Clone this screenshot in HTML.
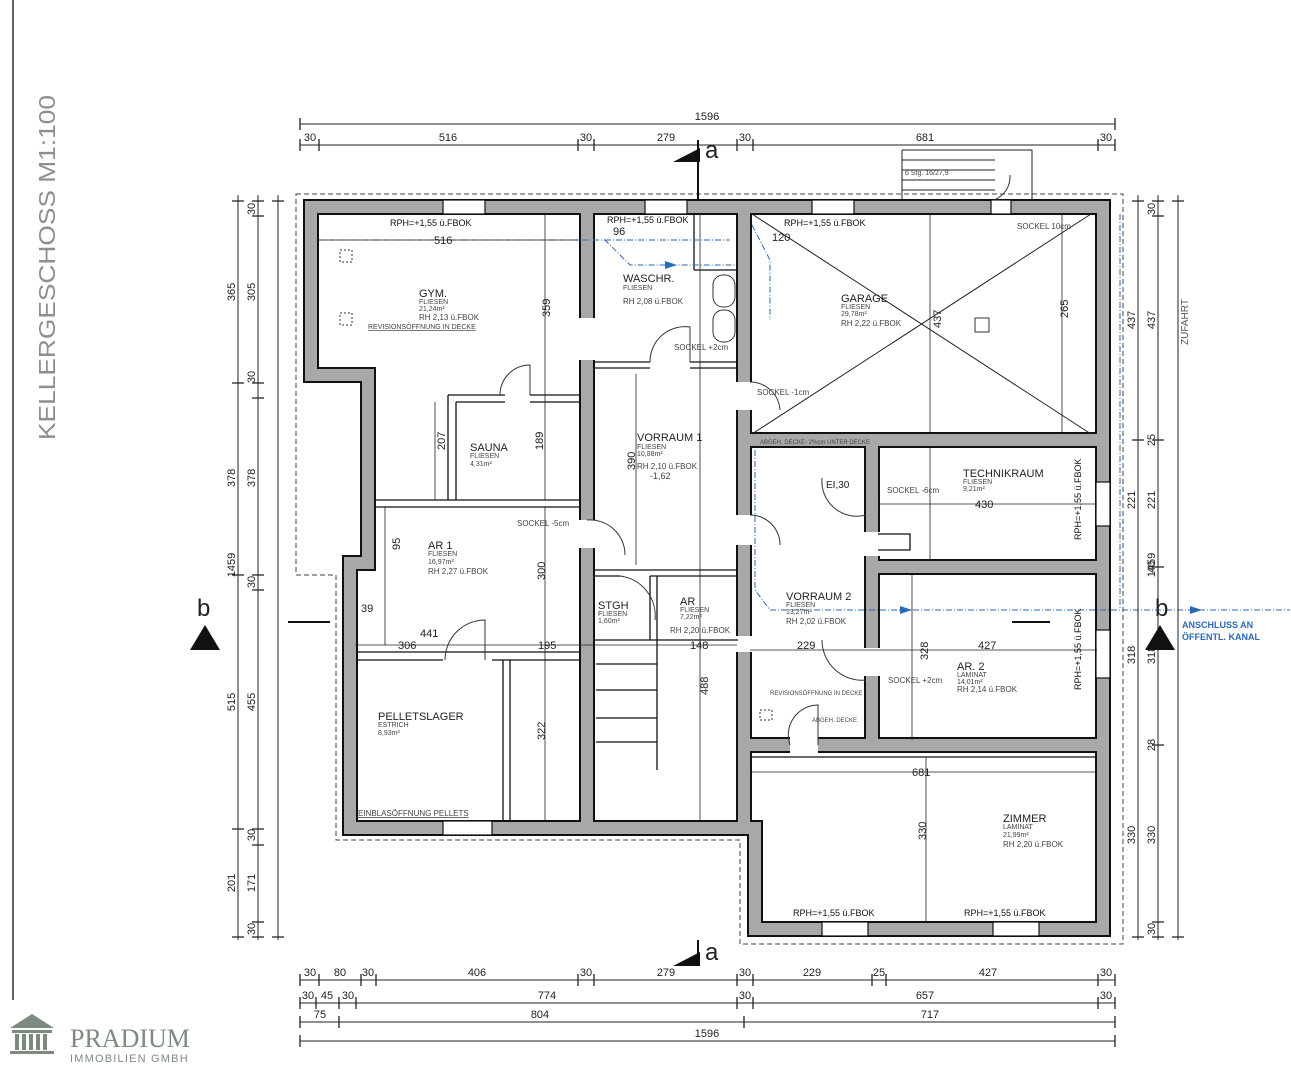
<!DOCTYPE html>
<html><head><meta charset="utf-8"><style>
html,body{margin:0;padding:0;background:#fff}
svg{display:block}
text{font-family:"Liberation Sans",sans-serif;fill:#222}
.d{font-size:11px}
.s{font-size:7px;fill:#444}
.r{font-size:10px}
.t{font-size:11px}
</style></head><body>
<svg width="1291" height="1080" viewBox="0 0 1291 1080" xmlns="http://www.w3.org/2000/svg">
<rect width="1291" height="1080" fill="#fff"/>
<line x1="13" y1="0" x2="13" y2="1000" stroke="#666" stroke-width="2"/>
<text transform="translate(55,440) rotate(-90)" textLength="345" lengthAdjust="spacingAndGlyphs" style="font-size:23px;fill:#8a8f94">KELLERGESCHOSS M1:100</text>

<path d="M296,194 H1123 V944 H740 V840 H336 V575 H296 Z" fill="none" stroke="#444" stroke-width="1" stroke-dasharray="5,3"/>

<g fill="none" stroke-linejoin="miter">
<g stroke="#111" stroke-width="16">
<path d="M311,207 H1103 V929 H755 V828 H350 V563 H368 V375 H311 Z"/>
<path d="M587,207 V318 M587,360 V520 M587,548 V828"/>
<path d="M744,207 V382 M744,410 V515 M744,545 V636 M744,652 V828"/>
<path d="M750,440 H1103"/>
<path d="M872,446 V532 M872,556 V648 M872,676 V740"/>
<path d="M872,567 H1103"/>
<path d="M750,745 H790 M818,745 H1103"/>
<path d="M350,828 H443 M492,828 H587"/>
</g>
<g stroke="#a8a8a8" stroke-width="12">
<path d="M311,207 H1103 V929 H755 V828 H350 V563 H368 V375 H311 Z"/>
<path d="M587,213 V318 M587,360 V520 M587,548 V822"/>
<path d="M744,213 V382 M744,410 V515 M744,545 V636 M744,652 V822"/>
<path d="M750,440 H1097"/>
<path d="M872,446 V532 M872,556 V648 M872,676 V740"/>
<path d="M872,567 H1097"/>
<path d="M750,745 H790 M818,745 H1097"/>
</g>
</g>
<g fill="#fff" stroke="#111" stroke-width="1.2">
<rect x="443" y="200" width="42" height="14"/><rect x="645" y="200" width="42" height="14"/><rect x="812" y="200" width="42" height="14"/>
<rect x="822" y="922" width="46" height="14"/><rect x="993" y="922" width="46" height="14"/>
<rect x="1096" y="482" width="14" height="44"/><rect x="1096" y="630" width="14" height="48"/><rect x="443" y="821" width="49" height="14"/>
<rect x="991" y="200" width="20" height="14"/>
</g>
<g stroke="#111" stroke-width="1.3" fill="none">
<path d="M375,500 H580 M375,507 H580"/>
<path d="M448,395 V500 M456,402 V500 M456,402 H505 M448,395 H505 M530,395 H580 M530,402 H580"/>
<path d="M357,652 H580 M357,660 H443 M492,660 H580 M503,660 V820 M510,660 V820"/>
<path d="M594,362 H650 M690,362 H738 M594,368 H650 M690,368 H738"/>
<path d="M694,214 V270 M694,270 H738"/>
<path d="M594,570 H738 M594,576 H620 M650,576 H738 M650,576 V640 M657,576 V640 M594,640 H738"/>
<path d="M657,640 V770 M596,664 H657 M596,690 H657 M596,718 H657 M596,742 H657"/>
<path d="M750,757 H1097"/>
<path d="M878,534 H910 V550 H878"/>
</g>
<g stroke="#333" stroke-width="1" fill="none">
<path d="M500,395 A30,30 0 0 1 530,365 V395"/>
<path d="M445,660 A40,40 0 0 1 485,620 V660"/>
<path d="M650,362 A35,35 0 0 1 690,327 V362"/>
<path d="M587,520 A35,35 0 0 1 625,555"/>
<path d="M750,382 A30,30 0 0 1 780,410"/>
<path d="M750,515 A30,30 0 0 1 780,545"/>
<path d="M822,478 A35,35 0 0 0 866,515"/>
<path d="M822,640 A40,40 0 0 0 866,680"/>
<path d="M790,745 A30,30 0 0 1 818,705 V745"/>
<path d="M620,576 A40,40 0 0 1 655,620"/>
<path d="M994,200 A25,25 0 0 0 1010,175"/>
<path d="M752,214 L1091,434 M1091,214 L752,434" stroke="#222"/>
<rect x="975" y="318" width="14" height="14" fill="#fff"/>
<rect x="713" y="275" width="22" height="32" rx="10"/><rect x="713" y="310" width="22" height="32" rx="10"/>
<rect x="340" y="250" width="12" height="12" stroke-dasharray="2,2"/><rect x="340" y="313" width="12" height="12" stroke-dasharray="2,2"/>
<rect x="760" y="710" width="12" height="10" stroke-dasharray="2,2"/>
</g>
<g stroke="#222" stroke-width="1" fill="none">
<path d="M902,150 H1032 V200 M902,150 V200 M902,160 H995 M902,170 H995 M902,180 H995 M902,190 H995"/>
</g>
<text x="905" y="175" class="s">6 Stg. 16/27,9</text>
<g stroke="#2a6ab8" stroke-width="1" fill="none" stroke-dasharray="6,2,1,2">
<path d="M318,240 H605 L630,265 H735"/><path d="M752,225 L770,260 V320"/><path d="M755,450 V590 L770,610 H1290"/><path d="M1120,214 V610"/><path d="M605,240 H730"/>
</g>
<g fill="#2a6ab8"><path d="M665,261 l12,4 l-12,4z"/><path d="M900,606 l12,4 l-12,4z"/><path d="M1190,606 l12,4 l-12,4z"/></g>
<text x="1182" y="628" style="font-size:9px;fill:#2a6ab8;font-weight:bold">ANSCHLUSS AN</text>
<text x="1182" y="640" style="font-size:9px;fill:#2a6ab8;font-weight:bold">ÖFFENTL. KANAL</text>

<g stroke="#222" stroke-width="0.8">
<line x1="318" y1="240" x2="580" y2="240"/><line x1="545" y1="214" x2="545" y2="500"/>
<line x1="435" y1="402" x2="435" y2="500"/><line x1="930" y1="214" x2="930" y2="434"/>
<line x1="355" y1="645" x2="737" y2="645"/><line x1="545" y1="507" x2="545" y2="820"/>
<line x1="385" y1="507" x2="385" y2="645"/><line x1="700" y1="214" x2="700" y2="820"/>
<line x1="636" y1="374" x2="636" y2="565"/><line x1="750" y1="650" x2="1097" y2="650"/>
<line x1="912" y1="575" x2="912" y2="740"/><line x1="878" y1="504" x2="1097" y2="504"/>
<line x1="930" y1="446" x2="930" y2="560"/><line x1="750" y1="772" x2="1097" y2="772"/>
<line x1="926" y1="757" x2="926" y2="922"/><line x1="1062" y1="214" x2="1062" y2="434"/>
</g>
<g class="d">
<text x="434" y="244">516</text><text x="538" y="315" transform="rotate(-90 545 310)">359</text>
<text x="440" y="455" transform="rotate(-90 440 450)">207</text><text x="538" y="455" transform="rotate(-90 538 450)">189</text>
<text x="936" y="333" transform="rotate(-90 936 328)">437</text><text x="420" y="637">441</text><text x="398" y="649">306</text>
<text x="538" y="649">195</text><text x="545" y="580" transform="rotate(-90 545 580)">300</text><text x="540" y="745" transform="rotate(-90 540 740)">322</text>
<text x="690" y="649">148</text><text x="797" y="649">229</text><text x="978" y="649">427</text><text x="975" y="508">430</text>
<text x="912" y="776">681</text><text x="921" y="845" transform="rotate(-90 921 840)">330</text><text x="708" y="695" transform="rotate(-90 708 695)">488</text>
<text x="630" y="475" transform="rotate(-90 630 470)">390</text><text x="922" y="666" transform="rotate(-90 922 660)">328</text>
<text x="1068" y="318" transform="rotate(-90 1068 318)">265</text><text x="613" y="235">96</text><text x="772" y="241">120</text>
<text x="361" y="612">39</text><text x="377" y="537" transform="rotate(-90 395 532)">95</text>
</g>
<g>
<text x="419" y="297" class="t">GYM.</text><text x="419" y="304" class="s">FLIESEN</text><text x="419" y="311" class="s">21,24m²</text><text x="419" y="320" class="s" style="font-size:8px">RH 2,13 ü.FBOK</text>
<text x="368" y="329" class="s" style="text-decoration:underline">REVISIONSÖFFNUNG IN DECKE</text>
<text x="470" y="451" class="t">SAUNA</text><text x="470" y="458" class="s">FLIESEN</text><text x="470" y="466" class="s">4,31m²</text>
<text x="623" y="282" class="t">WASCHR.</text><text x="623" y="290" class="s">FLIESEN</text><text x="623" y="304" class="s" style="font-size:8px">RH 2,08 ü.FBOK</text>
<text x="637" y="441" class="t">VORRAUM 1</text><text x="637" y="449" class="s">FLIESEN</text><text x="637" y="456" class="s">10,88m²</text><text x="637" y="469" class="s" style="font-size:8px">RH 2,10 ü.FBOK</text><text x="650" y="479" class="s" style="font-size:9px">-1,62</text>
<text x="841" y="302" class="t">GARAGE</text><text x="841" y="309" class="s">FLIESEN</text><text x="841" y="316" class="s">29,78m²</text><text x="841" y="326" class="s" style="font-size:8px">RH 2,22 ü.FBOK</text>
<text x="963" y="477" class="t">TECHNIKRAUM</text><text x="963" y="484" class="s">FLIESEN</text><text x="963" y="491" class="s">9,21m²</text>
<text x="428" y="549" class="t">AR 1</text><text x="428" y="556" class="s">FLIESEN</text><text x="428" y="564" class="s">16,97m²</text><text x="428" y="574" class="s" style="font-size:8px">RH 2,27 ü.FBOK</text>
<text x="598" y="609" class="t">STGH</text><text x="598" y="616" class="s">FLIESEN</text><text x="598" y="623" class="s">1,60m²</text>
<text x="680" y="605" class="t">AR</text><text x="680" y="612" class="s">FLIESEN</text><text x="680" y="619" class="s">7,22m²</text><text x="670" y="633" class="s" style="font-size:8px">RH 2,20 ü.FBOK</text>
<text x="786" y="600" class="t">VORRAUM 2</text><text x="786" y="607" class="s">FLIESEN</text><text x="786" y="614" class="s">13,27m²</text><text x="786" y="624" class="s" style="font-size:8px">RH 2,02 ü.FBOK</text>
<text x="957" y="670" class="t">AR. 2</text><text x="957" y="677" class="s">LAMINAT</text><text x="957" y="684" class="s">14,01m²</text><text x="957" y="692" class="s" style="font-size:8px">RH 2,14 ü.FBOK</text>
<text x="378" y="720" class="t">PELLETSLAGER</text><text x="378" y="727" class="s">ESTRICH</text><text x="378" y="735" class="s">8,93m²</text>
<text x="358" y="816" class="s" style="font-size:8px;text-decoration:underline">EINBLASÖFFNUNG PELLETS</text>
<text x="1003" y="822" class="t">ZIMMER</text><text x="1003" y="829" class="s">LAMINAT</text><text x="1003" y="837" class="s">21,99m²</text><text x="1003" y="847" class="s" style="font-size:8px">RH 2,20 ü.FBOK</text>
<text x="390" y="226" class="s" style="font-size:9px;fill:#111">RPH=+1,55 ü.FBOK</text>
<text x="607" y="223" class="s" style="font-size:9px;fill:#111">RPH=+1,55 ü.FBOK</text>
<text x="784" y="226" class="s" style="font-size:9px;fill:#111">RPH=+1,55 ü.FBOK</text>
<text x="793" y="916" class="s" style="font-size:9px;fill:#111">RPH=+1,55 ü.FBOK</text>
<text x="964" y="916" class="s" style="font-size:9px;fill:#111">RPH=+1,55 ü.FBOK</text>
<text x="1081" y="540" class="s" style="font-size:9px;fill:#111" transform="rotate(-90 1081 540)">RPH=+1,55 ü.FBOK</text>
<text x="1081" y="690" class="s" style="font-size:9px;fill:#111" transform="rotate(-90 1081 690)">RPH=+1,55 ü.FBOK</text>
<text x="1017" y="229" class="s" style="font-size:8px">SOCKEL 10cm</text>
<text x="674" y="350" class="s" style="font-size:8px">SOCKEL +2cm</text>
<text x="757" y="395" class="s" style="font-size:8px">SOCKEL -1cm</text>
<text x="517" y="526" class="s" style="font-size:8px">SOCKEL -5cm</text>
<text x="887" y="493" class="s" style="font-size:8px">SOCKEL -6cm</text>
<text x="888" y="683" class="s" style="font-size:8px">SOCKEL +2cm</text>
<text x="760" y="444" class="s" style="font-size:6px">ABGEH. DECKE- 2%cm UNTER DECKE</text>
<text x="770" y="695" class="s" style="font-size:6px">REVISIONSÖFFNUNG IN DECKE</text>
<text x="812" y="722" class="s" style="font-size:6px">ABGEH. DECKE</text>
<text x="826" y="488" style="font-size:10px">EI,30</text>
<text x="1188" y="345" transform="rotate(-90 1188 345)" style="font-size:10px;fill:#555">ZUFAHRT</text>
</g>

<g stroke="#222" stroke-width="1">
<line x1="300" y1="124" x2="1115" y2="124"/><line x1="300" y1="145" x2="1115" y2="145"/>
<line x1="300" y1="980" x2="1115" y2="980"/><line x1="300" y1="1003" x2="1115" y2="1003"/><line x1="300" y1="1022" x2="1115" y2="1022"/><line x1="300" y1="1041" x2="1115" y2="1041"/>
<line x1="238" y1="195" x2="238" y2="940"/><line x1="258" y1="195" x2="258" y2="940"/><line x1="278" y1="195" x2="278" y2="940"/>
<line x1="1138" y1="195" x2="1138" y2="940"/><line x1="1158" y1="195" x2="1158" y2="940"/><line x1="1178" y1="195" x2="1178" y2="940"/>
<g stroke-width="1.3">
<path d="M300,118 v12 M1115,118 v12 M300,139v12 M319,139v12 M578,139v12 M594,139v12 M737,139v12 M753,139v12 M1098,139v12 M1115,139v12"/>
<path d="M300,974v12 M319,974v12 M361,974v12 M376,974v12 M578,974v12 M594,974v12 M737,974v12 M753,974v12 M872,974v12 M886,974v12 M1098,974v12 M1115,974v12"/>
<path d="M300,997v12 M316,997v12 M339,997v12 M356,997v12 M737,997v12 M753,997v12 M1098,997v12 M1115,997v12"/>
<path d="M300,1016v12 M339,1016v12 M744,1016v12 M1115,1016v12 M300,1035v12 M1115,1035v12"/>
<path d="M232,201h12 M232,383h12 M232,575h12 M232,829h12 M232,937h12 M252,201h12 M252,216h12 M252,383h12 M252,398h12 M252,575h12 M252,590h12 M252,829h12 M252,845h12 M252,922h12 M252,937h12 M272,201h12 M272,937h12"/>
<path d="M1132,201h12 M1132,440h12 M1132,937h12 M1152,201h12 M1152,216h12 M1152,440h12 M1152,567h12 M1152,745h12 M1152,922h12 M1152,937h12 M1172,201h12 M1172,937h12"/>
</g></g>
<g class="d" text-anchor="middle">
<text x="707" y="120">1596</text>
<text x="310" y="141">30</text><text x="448" y="141">516</text><text x="586" y="141">30</text><text x="666" y="141">279</text><text x="745" y="141">30</text><text x="925" y="141">681</text><text x="1106" y="141">30</text>
<text x="310" y="976">30</text><text x="340" y="976">80</text><text x="368" y="976">30</text><text x="477" y="976">406</text><text x="586" y="976">30</text><text x="666" y="976">279</text><text x="745" y="976">30</text><text x="812" y="976">229</text><text x="879" y="976">25</text><text x="988" y="976">427</text><text x="1106" y="976">30</text>
<text x="308" y="999">30</text><text x="327" y="999">45</text><text x="348" y="999">30</text><text x="547" y="999">774</text><text x="745" y="999">30</text><text x="925" y="999">657</text><text x="1106" y="999">30</text>
<text x="320" y="1018">75</text><text x="540" y="1018">804</text><text x="930" y="1018">717</text>
<text x="707" y="1037">1596</text>
</g>
<g class="d" text-anchor="middle">
<text transform="translate(235,565) rotate(-90)">1459</text>
<text transform="translate(235,292) rotate(-90)">365</text><text transform="translate(235,478) rotate(-90)">378</text><text transform="translate(235,702) rotate(-90)">515</text><text transform="translate(235,883) rotate(-90)">201</text>
<text transform="translate(255,209) rotate(-90)">30</text><text transform="translate(255,292) rotate(-90)">305</text><text transform="translate(255,377) rotate(-90)">30</text><text transform="translate(255,478) rotate(-90)">378</text><text transform="translate(255,582) rotate(-90)">30</text><text transform="translate(255,702) rotate(-90)">455</text><text transform="translate(255,835) rotate(-90)">30</text><text transform="translate(255,883) rotate(-90)">171</text><text transform="translate(255,929) rotate(-90)">30</text>
<text transform="translate(1155,565) rotate(-90)">1459</text>
<text transform="translate(1135,320) rotate(-90)">437</text><text transform="translate(1135,500) rotate(-90)">221</text><text transform="translate(1135,655) rotate(-90)">318</text><text transform="translate(1135,835) rotate(-90)">330</text>
<text transform="translate(1155,209) rotate(-90)">30</text><text transform="translate(1155,320) rotate(-90)">437</text><text transform="translate(1155,440) rotate(-90)">25</text><text transform="translate(1155,500) rotate(-90)">221</text><text transform="translate(1155,567) rotate(-90)">40</text><text transform="translate(1155,655) rotate(-90)">318</text><text transform="translate(1155,745) rotate(-90)">28</text><text transform="translate(1155,835) rotate(-90)">330</text><text transform="translate(1155,929) rotate(-90)">30</text>
</g>
<g fill="#111">
<path d="M673,162 L700,148 L700,162Z"/><path d="M673,966 L700,952 L700,966Z"/>
<path d="M190,650 L205,625 L220,650Z"/><path d="M1145,650 L1160,625 L1175,650Z"/>
</g>
<line x1="698" y1="140" x2="698" y2="200" stroke="#111" stroke-width="2"/><line x1="698" y1="940" x2="698" y2="962" stroke="#111" stroke-width="2"/>
<line x1="288" y1="622" x2="330" y2="622" stroke="#111" stroke-width="2"/><line x1="1012" y1="622" x2="1050" y2="622" stroke="#111" stroke-width="2"/>
<text x="705" y="158" style="font-size:24px">a</text><text x="705" y="960" style="font-size:24px">a</text>
<text x="197" y="616" style="font-size:24px">b</text><text x="1155" y="616" style="font-size:24px">b</text>

<g fill="#7d8a80">
<path d="M10,1028 L32,1014 L54,1028 Z"/><rect x="12" y="1030" width="40" height="3"/>
<rect x="15" y="1034" width="4" height="16"/><rect x="22" y="1034" width="4" height="16"/><rect x="29" y="1034" width="4" height="16"/><rect x="36" y="1034" width="4" height="16"/><rect x="43" y="1034" width="4" height="16"/>
<rect x="10" y="1051" width="44" height="3"/>
</g>
<text x="70" y="1047" style="font-family:'Liberation Serif',serif;font-size:26px;fill:#7d8a80">PRADIUM</text>
<text x="70" y="1062" style="font-size:11px;fill:#7d8a80;letter-spacing:1.2px">IMMOBILIEN GMBH</text>
</svg>
</body></html>
